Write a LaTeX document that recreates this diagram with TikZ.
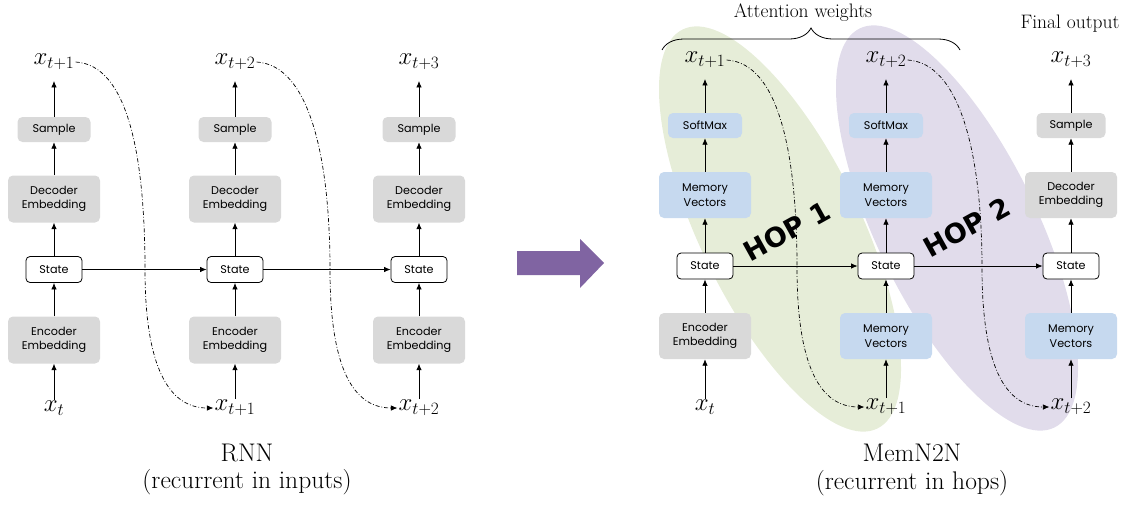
\documentclass[tikz,border=0pt]{standalone}
\usepackage{fontspec}
\newfontfamily\boxfont{Poppins}
\newfontfamily\hopfont{DejaVu Sans}
\usetikzlibrary{arrows.meta,decorations.pathreplacing}

\definecolor{boxgray}{RGB}{217,217,217}
\definecolor{boxblue}{RGB}{198,217,239}
\definecolor{hopgreen}{RGB}{230,237,216}
\definecolor{hoppurple}{RGB}{225,220,235}
\definecolor{arrowpurple}{RGB}{128,100,162}

\tikzset{
  blk/.style={rounded corners=5pt, inner sep=0pt, align=center,
    font=\boxfont\fontsize{11.2}{14.5}\selectfont},
  graybox/.style={blk, fill=boxgray},
  bluebox/.style={blk, fill=boxblue},
  small/.style={minimum width=73pt, minimum height=25pt},
  big/.style={minimum width=92pt, minimum height=47pt},
  statebox/.style={blk, draw=black, fill=white, line width=0.8pt,
    minimum width=56pt, minimum height=26pt, rounded corners=4pt},
  lab/.style={inner sep=1pt, font=\fontsize{24}{28}\selectfont},
  caption/.style={inner sep=0pt, font=\fontsize{25.5}{30}\selectfont},
  note/.style={inner sep=0pt, font=\fontsize{19.5}{22}\selectfont},
  hop/.style={inner sep=0pt, rotate=29, font=\hopfont\bfseries\fontsize{27}{30}\selectfont},
  arr/.style={-{Latex[length=6.5pt,width=5.5pt]}, line width=0.8pt},
  uparr/.style={arr, shorten >=10pt},
  recur/.style={-{Latex[length=6.5pt,width=5.5pt]}, line width=0.7pt,
    dash pattern=on 4pt off 2pt on 0.8pt off 2pt},
}

\begin{document}
\begin{tikzpicture}[x=1pt,y=-1pt]
\useasboundingbox (0,0) rectangle (1129,504);

% hop regions behind the memory network
\fill[hopgreen, shift={(780,229)}, rotate=26] (0,0) ellipse [x radius=80pt, y radius=222pt];
\fill[hoppurple, shift={(957,228)}, rotate=26] (0,0) ellipse [x radius=80pt, y radius=222pt];

% ---------------- RNN ----------------
\foreach \i/\x in {1/54, 2/235, 3/419} {
  \node[graybox, small] (s\i) at (\x,129.5) {Sample};
  \node[graybox, big] (d\i) at (\x,199) {Decoder\\Embedding};
  \node[statebox] (st\i) at (\x,269.5) {State};
  \node[graybox, big] (e\i) at (\x,340) {Encoder\\Embedding};
}
\node[lab] (t1) at (54,62) {$x_{t+1}$};
\node[lab] (t2) at (235,62) {$x_{t+2}$};
\node[lab] (t3) at (419,62) {$x_{t+3}$};
\node[lab] (b1) at (54,408) {$x_{t}$};
\node[lab] (b2) at (235,408) {$x_{t+1}$};
\node[lab] (b3) at (419,408) {$x_{t+2}$};

\foreach \i in {1,2,3} {
  \draw[arr] (b\i.north) -- (e\i.south);
  \draw[arr] (e\i.north) -- (st\i.south);
  \draw[arr] (st\i.north) -- (d\i.south);
  \draw[arr] (d\i.north) -- (s\i.south);
  \draw[uparr] (s\i.north) -- (t\i.south);
}
\draw[arr] (st1.east) -- (st2.west);
\draw[arr] (st2.east) -- (st3.west);

\coordinate (m1) at (145,270);
\coordinate (m2) at (330,270);
\draw[recur] (t1.east) .. controls +(52,3) and +(0,-115) .. (m1)
  .. controls +(0,85) and +(-50,0) .. (b2.west);
\draw[recur] (t2.east) .. controls +(52,3) and +(0,-115) .. (m2)
  .. controls +(0,85) and +(-50,0) .. (b3.west);

\node[caption] (rnn) at (247,453) {RNN};
\node[caption] (rnnsub) at (247,482) {(recurrent in inputs)};

% ---------------- transition ----------------
\fill[arrowpurple] (517,251) -- (580,251) -- (580,239) -- (604,263)
  -- (580,288) -- (580,275) -- (517,275) -- cycle;

% ---------------- MemN2N ----------------
\node[bluebox, small, minimum width=74pt] (sm1) at (705,125.5) {SoftMax};
\node[bluebox, big, minimum height=46pt] (mv1) at (705,195) {Memory\\Vectors};
\node[statebox] (rs1) at (705,266) {State};
\node[graybox, big, minimum height=46pt] (re1) at (705,336) {Encoder\\Embedding};

\node[bluebox, small, minimum width=74pt] (sm2) at (886,125.5) {SoftMax};
\node[bluebox, big, minimum height=46pt] (mv2) at (886,195) {Memory\\Vectors};
\node[statebox] (rs2) at (886,266) {State};
\node[bluebox, big, minimum height=46pt] (re2) at (886,336) {Memory\\Vectors};

\node[graybox, small, minimum width=69pt] (sm3) at (1071,125.5) {Sample};
\node[graybox, big, minimum height=46pt] (mv3) at (1071,195) {Decoder\\Embedding};
\node[statebox] (rs3) at (1071,266) {State};
\node[bluebox, big, minimum height=46pt] (re3) at (1071,336) {Memory\\Vectors};

\node[lab] (rt1) at (705,60) {$x_{t+1}$};
\node[lab] (rt2) at (886,60) {$x_{t+2}$};
\node[lab] (rt3) at (1071,60) {$x_{t+3}$};
\node[lab] (rb1) at (705,407) {$x_{t}$};
\node[lab] (rb2) at (886,407) {$x_{t+1}$};
\node[lab] (rb3) at (1071,407) {$x_{t+2}$};

\foreach \i in {1,2,3} {
  \draw[arr] (rb\i.north) -- (re\i.south);
  \draw[arr] (re\i.north) -- (rs\i.south);
  \draw[arr] (rs\i.north) -- (mv\i.south);
  \draw[arr] (mv\i.north) -- (sm\i.south);
  \draw[uparr] (sm\i.north) -- (rt\i.south);
}
\draw[arr] (rs1.east) -- (rs2.west);
\draw[arr] (rs2.east) -- (rs3.west);

\node[hop] (hop1) at (787,231) {HOP 1};
\node[hop] (hop2) at (967,227) {HOP 2};

\coordinate (m3) at (797,268);
\coordinate (m4) at (982,268);
\draw[recur] (rt1.east) .. controls +(52,3) and +(0,-115) .. (m3)
  .. controls +(0,85) and +(-50,0) .. (rb2.west);
\draw[recur] (rt2.east) .. controls +(52,3) and +(0,-115) .. (m4)
  .. controls +(0,85) and +(-50,0) .. (rb3.west);

% brace over the attention steps
\coordinate (bl) at (662,50);
\coordinate (br) at (960,50);
\draw[line width=0.8pt, decorate, decoration={brace, amplitude=22pt}] (bl) -- (br);
\node[note] (att) at (803,13) {Attention weights};
\node[note] (fin) at (1070,24) {Final output};

\node[caption] (mem) at (912,453) {MemN2N};
\node[caption] (memsub) at (912,483) {(recurrent in hops)};
\end{tikzpicture}
\end{document}
